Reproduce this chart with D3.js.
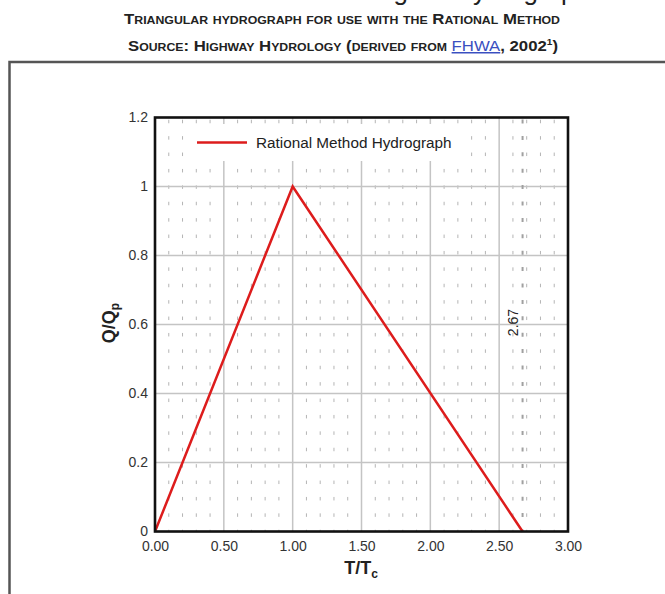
<!DOCTYPE html>
<html>
<head>
<meta charset="utf-8">
<script src="https://cdn.jsdelivr.net/npm/d3@7"></script>
<style>
html,body{margin:0;padding:0;background:#fff;}
svg{display:block;}
text{font-family:"Liberation Sans", Arial, sans-serif;}
</style>
</head>
<body>
<svg id="chart" width="665" height="594"></svg>
<script>
// ---- data ----
const seriesName = "Rational Method Hydrograph";
const tRatio = [0, 1, 2.67];        // T/Tc
const qRatio = [0, 1, 0];           // Q/Qp
const markerX = 2.67;
const markerLabel = "2.67";
const xTicks = [0, 0.5, 1, 1.5, 2, 2.5, 3];
const xTickLabels = ["0.00", "0.50", "1.00", "1.50", "2.00", "2.50", "3.00"];
const yTicks = [0, 0.2, 0.4, 0.6, 0.8, 1, 1.2];
const yTickLabels = ["0", "0.2", "0.4", "0.6", "0.8", "1", "1.2"];

const svg = d3.select("#chart");
const W = 665, H = 594;
const m = {left:155, right:W-568, top:117.5, bottom:H-531.5};
const FONT = '"Liberation Sans", Arial, sans-serif';

const x = d3.scaleLinear().domain([0,3]).range([m.left, W-m.right]);
const y = d3.scaleLinear().domain([0,1.2]).range([H-m.bottom, m.top]);

// cut-off text line at very top (bottom of the page text above the figure)
svg.append("text").attr("x", -4).attr("y", -0.5).attr("font-size", 26).attr("fill","#222")
  .text("into a tabular form and then a triangular hydrograph is created from it");

// header titles
svg.append("text").attr("x", 342).attr("y", 24).attr("text-anchor","middle")
  .attr("font-size", 15).attr("font-weight","bold").attr("fill","#222")
  .style("font-variant","small-caps")
  .attr("textLength", 436).attr("lengthAdjust","spacingAndGlyphs")
  .text("Triangular hydrograph for use with the Rational Method");
const t2 = svg.append("text").attr("x", 343).attr("y", 51).attr("text-anchor","middle")
  .attr("font-size", 15).attr("font-weight","bold").attr("fill","#222")
  .style("font-variant","small-caps")
  .attr("textLength", 430).attr("lengthAdjust","spacingAndGlyphs");
t2.append("tspan").text("Source: Highway Hydrology (derived from ");
t2.append("tspan").attr("fill","#3a4fc0").attr("font-weight","normal").attr("text-decoration","underline").text("FHWA");
t2.append("tspan").text(", 2002");
t2.append("tspan").attr("font-size", 9).attr("dy", -6).text("1");
t2.append("tspan").attr("dy", 6).text(")");

// outer frame
svg.append("path").attr("d", `M9.5,${H+2} V62 H${W+2}`)
  .attr("fill","none").attr("stroke","#555").attr("stroke-width",2.5);

const g = svg.append("g");

// minor dashed grid (every 0.1 in x), dash pattern running up from the x axis
const minorX = d3.range(1, 30).map(i => i/10).filter(v => Math.abs(v*2 - Math.round(v*2)) > 1e-6);
const period = 16.4;
g.selectAll("line.minor").data(minorX).enter().append("line")
  .attr("x1", d => x(d)).attr("x2", d => x(d))
  .attr("y1", y(0)).attr("y2", y(1.2))
  .attr("stroke", "#b4b4b4").attr("stroke-width", 1)
  .attr("stroke-dasharray", `3.5,${period-3.5}`)
  .attr("stroke-dashoffset", 1.75);

// major grid
g.selectAll("line.gx").data(xTicks.slice(1,-1)).enter().append("line")
  .attr("x1", d => x(d)).attr("x2", d => x(d)).attr("y1", y(0)).attr("y2", y(1.2))
  .attr("stroke","#c4c4c4").attr("stroke-width",1.5);
g.selectAll("line.gy").data(yTicks.slice(1,-1)).enter().append("line")
  .attr("y1", d => y(d)).attr("y2", d => y(d)).attr("x1", x(0)).attr("x2", x(3))
  .attr("stroke","#c4c4c4").attr("stroke-width",1.5);

// marker dashed line at 2.67
g.append("line").attr("x1", x(markerX)).attr("x2", x(markerX))
  .attr("y1", y(0)).attr("y2", y(1.2))
  .attr("stroke","#a0a0a0").attr("stroke-width",2)
  .attr("stroke-dasharray", `4,${period-4}`)
  .attr("stroke-dashoffset", 2);
g.append("text").attr("transform", `translate(${x(markerX)-5},${y(0.6)-2}) rotate(-90)`)
  .attr("text-anchor","middle").attr("font-size",14).attr("fill","#222")
  .text(markerLabel);

// legend box
g.append("rect").attr("x",185).attr("y",124).attr("width",283).attr("height",37).attr("fill","#fff");
g.append("line").attr("x1",197).attr("x2",247).attr("y1",142.5).attr("y2",142.5)
  .attr("stroke","#dd1c1c").attr("stroke-width",2.5);
g.append("text").attr("x",256).attr("y",148).attr("font-size",15.3).attr("fill","#222").text(seriesName);

// series
const pts = tRatio.map((t,i) => [t, qRatio[i]]);
g.append("path").datum(pts)
  .attr("d", d3.line().x(d => x(d[0])).y(d => y(d[1])))
  .attr("fill","none").attr("stroke","#dd1c1c").attr("stroke-width",2.5)
  .attr("stroke-linejoin","miter");

// plot border
g.append("rect").attr("x", x(0)).attr("y", y(1.2)).attr("width", x(3)-x(0)).attr("height", y(0)-y(1.2))
  .attr("fill","none").attr("stroke","#111").attr("stroke-width",2.6);

// axes labels
const xAxis = d3.axisBottom(x).tickValues(xTicks).tickFormat((d,i) => xTickLabels[i]).tickSize(0).tickPadding(10);
const xa = svg.append("g").attr("transform", `translate(0,${y(0)})`).call(xAxis);
xa.select(".domain").remove();
xa.selectAll("text").attr("font-size",14).attr("fill","#333").attr("font-family",FONT);

const yAxis = d3.axisLeft(y).tickValues(yTicks).tickFormat((d,i) => yTickLabels[i]).tickSize(0).tickPadding(7);
const ya = svg.append("g").attr("transform", `translate(${x(0)},0)`).call(yAxis);
ya.select(".domain").remove();
ya.selectAll("text").attr("font-size",14).attr("fill","#333").attr("font-family",FONT);

// axis titles
const xt = svg.append("text").attr("x", 361).attr("y", 574).attr("text-anchor","middle")
  .attr("font-size",18).attr("font-weight","bold").attr("fill","#222");
xt.append("tspan").text("T/T");
xt.append("tspan").attr("font-size",12).attr("dy",4).text("c");

const yt = svg.append("text").attr("transform", `translate(115,323) rotate(-90)`).attr("text-anchor","middle")
  .attr("font-size",18).attr("font-weight","bold").attr("fill","#222");
yt.append("tspan").text("Q/Q");
yt.append("tspan").attr("font-size",12).attr("dy",4).text("p");
</script>
</body>
</html>
